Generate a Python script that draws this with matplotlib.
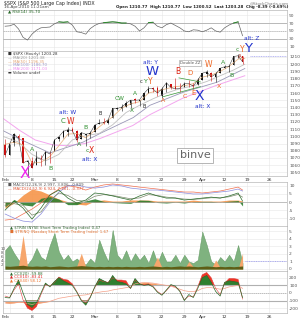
import matplotlib
matplotlib.use("Agg")
import matplotlib.pyplot as plt
import numpy as np

W, H = 301, 320

# trading-day index, Feb 1 2010 = 0 (Jan 29 = -1 ... Apr 16 = 52)
days = list(range(-1, 53))
opens = [1087.6, 1073.9, 1090.1, 1100.7, 1097.3, 1064.1, 1065.5, 1060.1, 1069.7, 1067.1,
         1075.9, 1079.1, 1096.1, 1099.0, 1105.5, 1110.0, 1107.5, 1095.9, 1101.2, 1103.1,
         1105.4, 1117.0, 1119.4, 1119.1, 1125.1, 1138.4, 1137.6, 1140.2, 1143.0, 1151.7,
         1148.5, 1150.8, 1159.9, 1166.1, 1166.7, 1155.3, 1166.5, 1172.7, 1170.0, 1167.6,
         1167.7, 1173.8, 1171.8, 1171.2, 1178.7, 1186.0, 1188.2, 1181.8, 1187.5, 1194.9,
         1195.9, 1198.7, 1210.8, 1211.0]
highs = [1096.5, 1089.4, 1104.7, 1102.7, 1097.3, 1067.1, 1071.2, 1079.3, 1073.7, 1080.0,
         1077.8, 1095.7, 1101.0, 1108.2, 1112.4, 1112.3, 1108.6, 1106.4, 1103.5, 1107.2,
         1116.1, 1123.5, 1125.6, 1123.7, 1139.4, 1141.1, 1145.4, 1148.3, 1150.2, 1153.4,
         1151.0, 1160.3, 1169.8, 1167.8, 1169.2, 1167.8, 1174.7, 1173.0, 1180.7, 1173.9,
         1174.9, 1177.8, 1174.6, 1181.4, 1187.7, 1191.8, 1189.6, 1188.5, 1194.7, 1199.2,
         1199.0, 1210.7, 1213.9, 1211.0]
lows = [1071.6, 1073.9, 1087.0, 1093.6, 1062.8, 1044.5, 1056.5, 1060.1, 1059.3, 1060.1,
        1063.0, 1079.1, 1093.0, 1097.5, 1100.8, 1105.4, 1092.2, 1095.9, 1086.0, 1097.6,
        1105.4, 1116.5, 1116.6, 1116.5, 1125.1, 1136.8, 1134.9, 1140.1, 1138.9, 1146.9,
        1141.5, 1150.4, 1159.9, 1161.3, 1155.3, 1152.6, 1161.7, 1166.0, 1165.1, 1161.5,
        1167.7, 1168.5, 1165.8, 1170.7, 1178.7, 1182.8, 1177.3, 1175.1, 1187.2, 1194.7,
        1188.8, 1198.7, 1208.5, 1200.5]
closes = [1073.9, 1089.2, 1103.3, 1097.3, 1063.1, 1066.2, 1056.7, 1070.5, 1068.1, 1078.5,
          1075.5, 1094.9, 1099.5, 1106.8, 1109.2, 1108.0, 1094.6, 1105.2, 1102.9, 1104.5,
          1115.7, 1118.3, 1118.8, 1123.0, 1138.7, 1138.5, 1140.5, 1145.6, 1150.2, 1150.0,
          1150.5, 1159.5, 1166.2, 1165.8, 1159.9, 1165.8, 1174.2, 1167.7, 1165.7, 1166.6,
          1173.2, 1173.3, 1169.4, 1178.1, 1187.4, 1189.4, 1182.5, 1186.4, 1194.4, 1196.5,
          1197.3, 1210.7, 1211.7, 1203.3]

ma20_x = [-1.5, 1, 3, 5, 7, 9, 11, 13, 15, 17, 19, 21, 23, 25, 27, 29, 31, 33, 35, 37, 39,
          41, 43, 45, 47, 49, 51, 52.5]
ma20_y = [1088, 1092, 1088, 1063, 1064, 1072, 1087, 1103, 1104, 1098, 1108, 1118, 1127, 1139,
          1145, 1148, 1160, 1163, 1166, 1169, 1170, 1173, 1182, 1185, 1190, 1197, 1207, 1208]
ma50_x = [-1.5, 2, 5, 8, 11, 14, 17, 20, 23, 26, 29, 32, 35, 38, 41, 44, 47, 50, 52.5]
ma50_y = [1100, 1092, 1075, 1066, 1075, 1095, 1101, 1104, 1116, 1133, 1143, 1152, 1160, 1166,
          1170, 1176, 1184, 1192, 1200]
ma100_x = [-1.5, 2.3, 9, 16.4, 20.2, 27.6, 31.3, 38.7, 46.3, 52.5]
ma100_y = [1108, 1096, 1077, 1092, 1104, 1126, 1143, 1161, 1175, 1194]
ma200_x = [-1.5, 2.3, 5.7, 9.7, 12.8, 16.8, 20.2, 27.5, 31.3, 38.7, 46.3, 52.5]
ma200_y = [1125, 1108, 1095, 1088, 1087, 1090, 1097, 1115, 1130, 1153, 1171, 1184]

rsi = [62, 63, 67, 55, 34, 27, 42, 52, 58, 59, 60, 68, 73, 72, 73, 65, 48, 46, 42, 56,
       64, 69, 71, 72, 73, 72, 70, 70, 68, 62, 50, 58, 71, 72, 62, 58, 66, 70, 64, 58,
       50, 48, 53, 52, 48, 52, 58, 50, 47, 58, 65, 70, 73, 38]

macd_x = [-1, 1, 3, 5, 7, 9, 11, 13, 15, 17, 19, 21, 23, 25, 27, 29, 31, 33, 35, 37, 39,
          41, 43, 45, 47, 49, 51, 52]
slow_a = [-11, -10.4, -7.3, -4.3, -0.6, 4.3, 7.9, 10, 9.1, 7.3, 9.1, 10.4, 11, 10.4, 9.8,
          9.1, 8.5, 7.9, 7.3, 6.7, 6.1, 6.1, 5.5, 6.1, 6.7, 7.9, 9.1, 7.3]
slow_b = [-7.3, -9.8, -11.6, -12.2, -7.3, 0, 6.1, 9.8, 10.4, 9.1, 8.5, 9.1, 10.4, 9.8, 8.5,
          7.9, 7.3, 7.3, 6.7, 6.1, 5.5, 4.9, 4.9, 5.5, 6.1, 6.7, 7.9, 6.7]
fast_a = [-4.9, 0.6, -3.7, -10.4, -3.7, 4.3, 7.3, 2.4, -0.6, 1.2, 5.5, 4.9, 3.7, 2.4, 1.2,
          3.7, 5.5, 3.7, 2.4, 2.4, 1.2, 1.8, 2.4, 3.0, 2.4, 3.7, 5.5, 0.6]
fast_b = [-2, -1, -2, -8, -6, 1, 5.5, 4, 1, 0.5, 3.5, 4.5, 4, 3, 2, 2.5, 4.5, 4, 3, 2.5, 1.8,
          1.6, 2, 2.6, 2.5, 3.2, 4.6, 3]

trin = [2.5, 3.2, 2.1, 1.2, 0.8, 0.6, 1.4, 2.8, 1.6, 1.2, 3.2, 4.8, 2.3, 1.2, 1.9, 1.0, 1.4,
        0.8, 0.6, 1.4, 0.8, 3.9, 2.3, 1.0, 5.2, 1.9, 1.2, 2.5, 1.0, 2.1, 1.2, 1.9, 0.8, 2.5,
        0.8, 2.3, 1.0, 1.0, 1.9, 0.8, 1.9, 1.0, 0.8, 1.2, 5.0, 3.2, 1.0, 0.6, 1.6, 1.0, 1.9,
        1.0, 3.2, 0.8]
trinq = [0, 0, 0, 0.5, 4.5, 0.3, 0, 0, 0, 0, 0, 0, 0, 0, 0, 0, 0.4, 2.1, 0.3, 0, 0, 0, 0, 0,
         0, 0, 0, 0, 0, 0, 0, 0, 0, 0.3, 1.6, 0.2, 0, 0, 0, 0, 0, 1.0, 0.3, 0, 0, 0, 0, 1.2,
         0.2, 0, 0, 0, 0, 2.1]
olive = [0.4, 0.35, 0.4, 0.45, 0.5, 0.4, 0.35, 0.4, 0.35, 0.4, 0.3, 0.35, 0.4, 0.35, 0.3,
         0.35, 0.4, 0.45, 0.4, 0.35, 0.3, 0.35, 0.3, 0.35, 0.3, 0.35, 0.3, 0.35, 0.3, 0.3,
         0.35, 0.3, 0.35, 0.4, 0.35, 0.3, 0.35, 0.3, 0.35, 0.4, 0.35, 0.4, 0.35, 0.3, 0.35,
         0.4, 0.35, 0.3, 0.35, 0.3, 0.35, 0.3, 0.35, 0.4]

cci_green = [-60, -65, 60, 170, 0, -150, -190, -130, 0, 130, 80, 150, 200, 160, 130, 100, 10,
             -100, -160, -60, 80, 190, 160, 130, 230, 150, 140, 120, 60, 190, 120, 100, 110,
             80, 10, -30, 40, 110, 90, 20, -100, -20, -60, 60, 200, 230, 140, 20, -40, 140,
             160, 150, 140, -60]
cci_red = [-40, -60, 40, 120, -90, -200, -230, -180, -20, 110, 90, 140, 210, 180, 170, 120,
           20, -90, -130, -50, 70, 170, 150, 140, 200, 170, 170, 160, 60, 170, 120, 110, 120,
           90, 20, -20, 30, 100, 80, 30, -90, -40, -50, 80, 240, 270, 200, 60, -20, 130, 190,
           190, 180, -80]
cci_orange = [-130, -135, -130, -120, -125, -140, -150, -140, -130, -120, -110, -90, -70, -60,
              -50, -40, -35, -30, -25, -10, 0, 10, 20, 25, 40, 50, 60, 70, 80, 120, 130, 140,
              135, 130, 120, 110, 100, 90, 70, 50, 30, 20, 20, 30, 60, 70, 70, 60, 50, 60, 80,
              90, 100, 60]

week_idx = [0, 5, 10, 14, 19, 24, 29, 34, 39, 43, 48, 53, 58]
week_lbl = ["Feb", "8", "15", "22", "Mar", "8", "15", "22", "29", "Apr", "12", "19", "26"]

x0, dx = 9.6, 4.48
XL = ((3 - x0) / dx, (287 - x0) / dx)

plt.rcParams['font.family'] = ['DejaVu Sans']
fig = plt.figure(figsize=(W / 100, H / 100), dpi=100)
fig.patch.set_facecolor('white')


def fy(py):
    return 1 - py / H


def panel(ytop, ybot, ylim, yticks, ylabels):
    ax = fig.add_axes([3 / W, 1 - ybot / H, 284 / W, (ybot - ytop) / H])
    ax.set_xlim(XL)
    ax.set_ylim(ylim)
    for s in ax.spines.values():
        s.set_color('#b8b8b8')
        s.set_linewidth(0.5)
    ax.yaxis.tick_right()
    ax.tick_params(axis='both', length=0, labelsize=3.2, colors='#555555', pad=1.5)
    ax.set_xticks(week_idx)
    ax.set_xticklabels([])
    ax.set_yticks(yticks)
    ax.set_yticklabels(ylabels)
    ax.grid(True, color='#e6e6e6', lw=0.4)
    ax.set_axisbelow(True)
    return ax


# ---- header
fig.text(4 / W, fy(3.5), "$SPX (S&P 500 Large Cap Index) INDX", fontsize=3.4, va='center', color='#222222')
fig.text(4 / W, fy(7.2), "16-Apr-2010 11:21am", fontsize=3, va='center', color='#444444')
fig.text(289 / W, fy(3.0), "@StockCharts.com", fontsize=3, va='center', ha='right', color='#777777')
fig.text(289 / W, fy(7.2), "Open 1210.77  High 1210.77  Low 1200.52  Last 1203.28  Chg -8.39 (-0.69%)",
         fontsize=2.9, va='center', ha='right', color='#222222', fontweight='bold')

# ---- RSI
ax_r = panel(10, 51, (-0.6, 103), [90, 70, 50, 30, 10], ["90", "70", "50", "30", "10"])
ax_r.axhline(70, color='#b0b0b0', lw=0.6)
ax_r.axhline(30, color='#b0b0b0', lw=0.6)
ax_r.axhline(50, color='#b0b0b0', lw=0.5, ls=(0, (2, 1)))
r = np.array(rsi, dtype=float)
ax_r.plot(days, r, color='#666666', lw=0.5)
ax_r.plot(days, np.where(r >= 70, r, np.nan), color='#2a8a2a', lw=0.7)
ax_r.plot(days, np.where(r <= 30, r, np.nan), color='#cc2200', lw=0.7)
fig.text(8 / W, fy(11.8), "\u25b2 RSI(14) 35.70", fontsize=3, va='center', color='#226622')

# ---- main price panel
ax = panel(51, 176, (1045, 1218.3), list(range(1050, 1220, 10)), [str(v) for v in range(1050, 1220, 10)])
ax.plot(ma200_x, ma200_y, color='#f3a6ee', lw=0.7)
ax.plot(ma100_x, ma100_y, color='#9a98b8', lw=0.6)
ax.plot(ma50_x, ma50_y, color='#c0c0c0', lw=0.6)
ax.plot(ma20_x, ma20_y, color='#e9b98b', lw=0.6)
ax.plot(days, closes, color='#333333', lw=0.35)
for d, o, h, l, c in zip(days, opens, highs, lows, closes):
    col = '#111111' if c >= o else '#cc1111'
    ax.vlines(d, l, h, color=col, lw=0.4)
    ax.bar(d, max(abs(c - o), 0.6), bottom=min(o, c), width=0.35, color=col, lw=0)

# triangle lines and resistance
ax.plot([37.8, 42.6], [1181, 1175.4], color='#3a9a3a', lw=0.5)
ax.plot([34.2, 42.6], [1154.8, 1168.9], color='#3a9a3a', lw=0.5)
ax.hlines(1211, 53.6, XL[1], color='#9a9aee', lw=0.5, ls=(0, (1.5, 1)))

BL, GR, OR, RD, MG, BK = '#2233cc', '#2f8f2f', '#ee6622', '#dd2211', '#ee22ee', '#222222'
labels = [
    (3.3, 1048.5, "X", MG, 11), (5.0, 1082, "A", GR, 4.5), (9.2, 1055.6, "B", GR, 4.5),
    (13.0, 1133.5, "alt: W", BL, 4.2), (12.0, 1121, "C", GR, 5), (13.5, 1121, "W", RD, 5.5),
    (17.0, 1112.6, "B", GR, 4.5), (15.5, 1089, "A", GR, 4.5), (17.3, 1080.6, "c", GR, 4.5),
    (18.3, 1080.6, "X", RD, 5.5), (17.8, 1068, "alt: X", BL, 4.2), (20.2, 1131, "B", BK, 3.5),
    (24.6, 1153, "CW", GR, 4.2), (28.0, 1160, "A", GR, 4.2), (27.3, 1136, "X", GR, 4.2),
    (30.0, 1142, "B", BK, 3.5), (31.4, 1203, "alt: Y", BL, 4.2), (31.8, 1190.5, "W", BL, 9.5),
    (29.4, 1176.6, "c", BK, 3.8), (30.4, 1176.6, "Y", GR, 4.5), (31.5, 1176.6, "Y", OR, 5.5),
    (34.3, 1149, "A", OR, 4.5), (37.6, 1190.5, "B", RD, 5.5), (40.3, 1187.7, "D", OR, 5),
    (39.2, 1155.8, "C", OR, 4.5), (41.0, 1160, "E", OR, 5), (42.3, 1155.8, "X", BL, 10),
    (43.0, 1142, "alt: X", BL, 4.2), (44.3, 1199, "W", OR, 5.5), (47.6, 1201.7, "A", GR, 4.5),
    (46.7, 1169.7, "X", OR, 4.5), (49.6, 1185, "B", GR, 4.5), (51.4, 1210, "A", '#aa2211', 4),
    (50.9, 1221, "c", GR, 4.2), (52.0, 1221, "Y", OR, 5.5), (53.3, 1222.3, "Y", BL, 9.5),
]
for lx, ly, txt, col, fs in labels:
    ax.text(lx, ly, txt, color=col, fontsize=fs, ha='center', va='center', clip_on=False, zorder=5)
fig.text(252 / W, fy(38.5), "alt: Z", color=BL, fontsize=4.2, ha='center', va='center', zorder=10)

ax.text(40.3, 1201.7, "Double ZZ", fontsize=2.8, color='#555555', ha='center', va='center',
        bbox=dict(boxstyle='square,pad=0.25', fc='white', ec='#999999', lw=0.4), zorder=6)
ax.text(41.4, 1073.5, "binve", fontsize=8, color='#666666', ha='center', va='center',
        bbox=dict(boxstyle='square,pad=0.2', fc='white', ec='#aaaaaa', lw=0.6), zorder=6)

legend_main = [("\u25a0 $SPX (Hourly) 1203.28", '#333333'), ("\u2014 MA(20) 1201.38", '#999999'),
               ("\u2014 MA(50) 1196.35", '#e0a070'), ("\u2014 MA(100) 1186.70", '#9a98c8'),
               ("\u2014 MA(200) 1171.03", '#ee88ee'), ("\u25ac Volume undef", '#333333')]
for k, (t, c) in enumerate(legend_main):
    fig.text(8 / W, fy(54.2 + 3.7 * k), t, fontsize=2.8, va='center', color=c)

# ---- date rows
for py in (180, 317):
    for i, lb in zip(week_idx, week_lbl):
        px = x0 + dx * i
        if lb == "Feb":
            fig.text(2 / W, fy(py), lb, fontsize=3.2, va='center', ha='left', color='#333333')
        else:
            fig.text(px / W, fy(py), lb, fontsize=3.2, va='center', ha='center', color='#333333')

# ---- MACD panel
ax_m = panel(182, 226, (-14.6, 12.2), [10, 5, 0, -5, -10], ["10", "5", "0", "-5", "-10"])
mx = np.array(macd_x)
ax_m.axhline(0, color='#999999', lw=0.4)
ax_m.fill_between(mx, 0, np.array(slow_a) - np.array(slow_b), color='#f6954a', lw=0, alpha=0.9)
ax_m.fill_between(mx, 0, np.array(fast_a) - np.array(fast_b), color='#2f7f2f', lw=0, alpha=0.9)
ax_m.plot(mx, slow_a, color='#f07050', lw=0.5)
ax_m.plot(mx, slow_b, color='#8c8cdc', lw=0.5)
ax_m.plot(mx, fast_b, color='#7a8a6a', lw=0.5)
ax_m.plot(mx, fast_a, color='#2a6a2a', lw=0.5)
fig.text(8 / W, fy(185), "\u25a0 MACD(12,26,9) 2.997, 3.806, -0.809", fontsize=2.8, va='center', color='#555555')
fig.text(8 / W, fy(189), "\u2014 MACD(24,52,9) 6.924, 7.301, -0.377", fontsize=2.8, va='center', color='#e05030')

# ---- TRIN panel
ax_t = panel(226, 271, (-0.27, 5.73), [0, 1, 2, 3, 4, 5], ["0", "1", "2", "3", "4", "5"])
ax_t.fill_between(days, 0, trin, color='#7fb27f', lw=0.3, ec='#5a935a')
ax_t.fill_between(days, 0, trinq, color='#f6a66c', lw=0)
ax_t.fill_between(days, 0, olive, color='#5e5e16', lw=0)
ax_t.hlines(1, 52.5, XL[1], color='#8f8fee', lw=0.5, ls=(0, (1.5, 1)))
for v, lb in zip([0.53, 1.05, 1.58, 2.11, 2.63], ["2", "4", "6", "8", "10"]):
    fig.text(1 / W, fy(269 - 7.5 * v), lb, fontsize=3, va='center', ha='left', color='#555555')
fig.text(10 / W, fy(228.5), "\u25b2 $TRIN (NYSE Short Term Trading Index) 0.47", fontsize=2.8, va='center', color='#336633')
fig.text(10 / W, fy(232), "\u25a0 $TRINQ (Nasdaq Short Term Trading Index) 1.67", fontsize=2.8, va='center', color='#e07030')

# ---- CCI panel
ax_c = panel(271, 313, (-263, 289), [200, 100, 0, -100, -200], ["200", "100", "0", "-100", "-200"])
ax_c.axhline(100, color='#b0b0b0', lw=0.8)
ax_c.axhline(-100, color='#b0b0b0', lw=0.8)
ax_c.axhline(0, color='#aaaaaa', lw=0.5, ls=(0, (2, 1)))
for ser, col in ((cci_orange, '#f6a060'), (cci_red, '#ee3322'), (cci_green, '#2f7f2f')):
    a = np.array(ser, dtype=float)
    ax_c.fill_between(days, 100, a, where=a > 100, interpolate=True, color=col, lw=0)
    ax_c.fill_between(days, -100, a, where=a < -100, interpolate=True, color=col, lw=0)
ax_c.plot(days, cci_orange, color='#f4a088', lw=0.5)
ax_c.plot(days, cci_red, color='#e04040', lw=0.4)
ax_c.plot(days, cci_green, color='#2a6a2a', lw=0.5)
fig.text(10 / W, fy(273.5), "\u25b2 CCI(20) -59.88", fontsize=2.8, va='center', color='#2a6a2a')
fig.text(10 / W, fy(277), "\u25b2 CCI(10) -83.41", fontsize=2.8, va='center', color='#dd2222')
fig.text(10 / W, fy(280.5), "\u25b2 CCI(40) 58.12", fontsize=2.8, va='center', color='#ee7733')

fig.savefig("out.png", dpi=100)
